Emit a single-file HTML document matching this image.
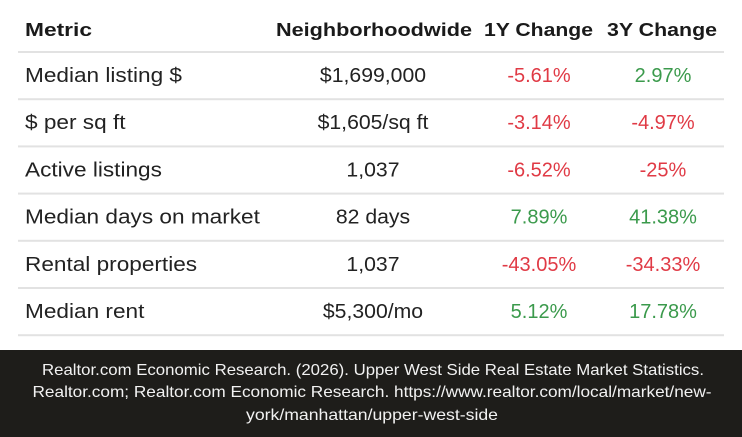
<!DOCTYPE html>
<html><head><meta charset="utf-8"><style>
html,body{margin:0;padding:0;background:#fff;}
svg{display:block;}
</style></head><body>
<svg width="742" height="437" viewBox="0 0 742 437" xmlns="http://www.w3.org/2000/svg" font-family="Liberation Sans, sans-serif">
<rect x="0" y="0" width="742" height="350" fill="#ffffff"/>
<g font-weight="bold" font-size="18" fill="#1a1a1a">
<text x="25" y="36" textLength="67" lengthAdjust="spacingAndGlyphs">Metric</text>
<text x="276" y="36" textLength="196" lengthAdjust="spacingAndGlyphs">Neighborhoodwide</text>
<text x="484" y="36" textLength="109" lengthAdjust="spacingAndGlyphs">1Y Change</text>
<text x="607" y="36" textLength="110" lengthAdjust="spacingAndGlyphs">3Y Change</text>
</g>
<g id="rows"></g>
<rect x="0" y="350" width="742" height="87" fill="#1e1d1a"/>
<g fill="#f2f2f2" font-size="16" text-anchor="middle">
<text x="373" y="375" textLength="662" lengthAdjust="spacingAndGlyphs">Realtor.com Economic Research. (2026). Upper West Side Real Estate Market Statistics.</text>
<text x="372" y="397" textLength="679" lengthAdjust="spacingAndGlyphs">Realtor.com; Realtor.com Economic Research. https://www.realtor.com/local/market/new-</text>
<text x="372" y="420" textLength="252" lengthAdjust="spacingAndGlyphs">york/manhattan/upper-west-side</text>
</g>
</svg>
<script>
const metrics = ["Median listing $","$ per sq ft","Active listings","Median days on market","Rental properties","Median rent"];
const neighborhood = ["$1,699,000","$1,605/sq ft","1,037","82 days","1,037","$5,300/mo"];
const change1y = ["-5.61%","-3.14%","-6.52%","7.89%","-43.05%","5.12%"];
const change3y = ["2.97%","-4.97%","-25%","41.38%","-34.33%","17.78%"];
const NS="http://www.w3.org/2000/svg";
const g=document.getElementById('rows');
function line(y){
  const l=document.createElementNS(NS,'rect');
  l.setAttribute('x',18);l.setAttribute('y',y-1);l.setAttribute('width',706);l.setAttribute('height',2);l.setAttribute('fill','#e2e2e2');
  
  
  g.appendChild(l);
}
function txt(x,y,s,anchor,fill,name,k){
  const t=document.createElementNS(NS,'text');
  t.setAttribute('x',x);t.setAttribute('y',y);t.setAttribute('text-anchor',anchor);t.setAttribute('fill',fill);t.setAttribute('font-size','20');
  t.textContent=s;
  
  
  g.appendChild(t);
  const w=t.getComputedTextLength();
  if(w>0 && k!==1){t.setAttribute('textLength',(w*k).toFixed(1));t.setAttribute('lengthAdjust','spacingAndGlyphs');}
}
function col(v){return v.trim().startsWith('-')?'#e03a45':'#3b9a4c';}
line(52);
metrics.forEach((m,i)=>{
  const cy=75+i*47.2;
  txt(25,cy+7,m,'start','#222','metric-label',1.13);
  txt(373,cy+7,neighborhood[i],'middle','#222','neighborhood-value',1.06);
  txt(539,cy+7,change1y[i],'middle',col(change1y[i]),'change-1y-value',1);
  txt(663,cy+7,change3y[i],'middle',col(change3y[i]),'change-3y-value',1);
  line(52+(i+1)*47.2);
});
</script>
</body></html>
